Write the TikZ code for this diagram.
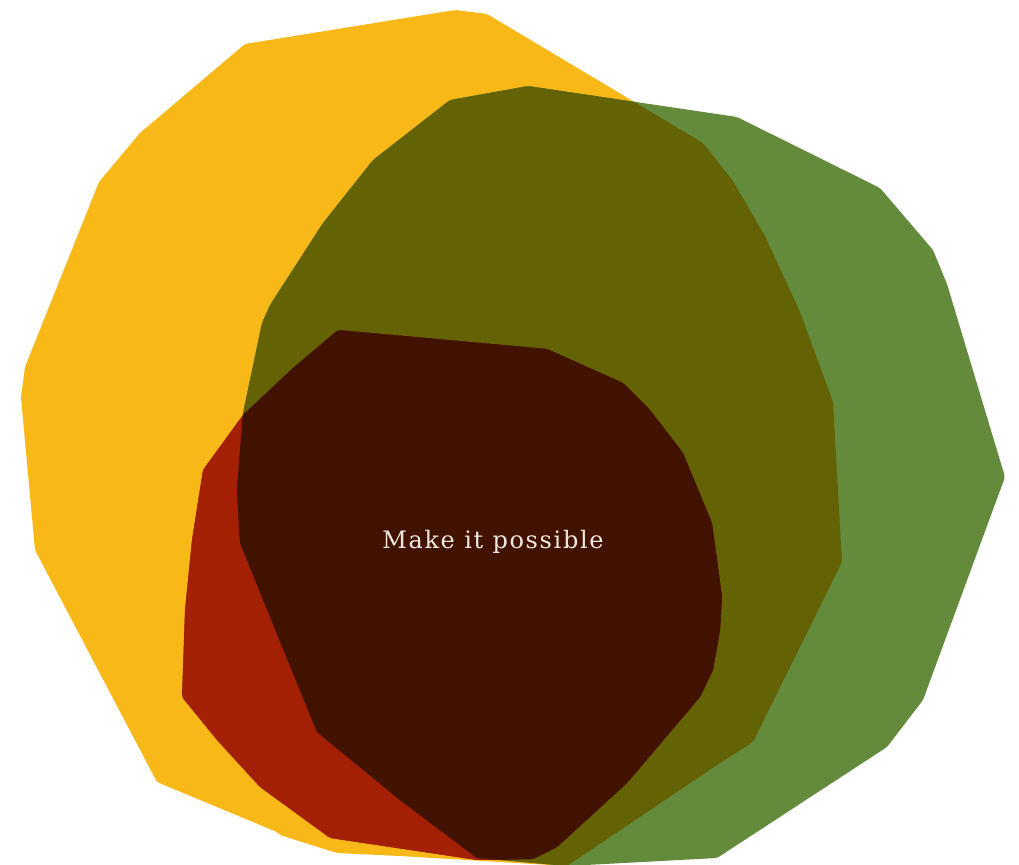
\documentclass[tikz,border=0pt]{standalone}
\usepackage{fontspec}
\newfontfamily\labelfont[LetterSpace=7]{DejaVu Serif}
\definecolor{cyel}{HTML}{F8B818}
\definecolor{cgrn}{HTML}{648B3C}
\definecolor{cred}{HTML}{A92C2A}
\definecolor{cyg}{HTML}{636204}
\definecolor{cyr}{HTML}{A32004}
\definecolor{cgr}{HTML}{42180A}
\definecolor{cygr}{HTML}{421200}
\definecolor{ctext}{HTML}{EFE8E2}
\newcommand\yshape{(245,44) -- (455,10) -- (487,14) -- (703,143) -- (733,181) -- (765,236) -- (800,312) -- (833,402) -- (842,562) -- (753,742) -- (720,763) -- (567,866) -- (400,856) -- (337,853) -- (280,835) -- (277,832) -- (157,782) -- (35,550) -- (21,397) -- (25,367) -- (99,182) -- (140,133) -- cycle}
\newcommand\gshape{(528,86) -- (737,117) -- (880,188) -- (933,250) -- (947,284) -- (1005,477) -- (923,700) -- (887,747) -- (717,858) -- (567,866) -- (477,858) -- (400,800) -- (317,732) -- (240,543) -- (237,490) -- (243,413) -- (262,323) -- (270,305) -- (323,223) -- (373,160) -- (450,100) -- cycle}
\newcommand\rshape{(338,330) -- (547,349) -- (623,383) -- (650,410) -- (683,453) -- (712,523) -- (722,597) -- (720,630) -- (713,670) -- (700,697) -- (627,783) -- (557,847) -- (533,859) -- (477,860) -- (330,838) -- (260,787) -- (217,740) -- (182,697) -- (185,610) -- (192,540) -- (203,470) -- (243,415) -- (293,368) -- cycle}
\begin{document}
\begin{tikzpicture}[x=1pt,y=-1pt,
  blob/.style={rounded corners=2pt},
  lbl/.style={text=ctext,font=\labelfont\fontsize{24}{28}\selectfont,inner sep=0pt}]
\useasboundingbox (0,0) rectangle (1019,864);
\fill[white] (0,0) rectangle (1019,864);
\fill[cyel,blob] \yshape;
\fill[cgrn,blob] \gshape;
\fill[cred,blob] \rshape;
\begin{scope}
  \clip[blob] \yshape;
  \fill[cyg,blob] \gshape;
  \fill[cyr,blob] \rshape;
\end{scope}
\begin{scope}
  \clip[blob] \gshape;
  \fill[cgr,blob] \rshape;
\end{scope}
\begin{scope}
  \clip[blob] \yshape;
  \clip[blob] \gshape;
  \fill[cygr,blob] \rshape;
\end{scope}
\node[lbl,anchor=base] (label) at (493,548) {Make it possible};
\end{tikzpicture}
\end{document}
